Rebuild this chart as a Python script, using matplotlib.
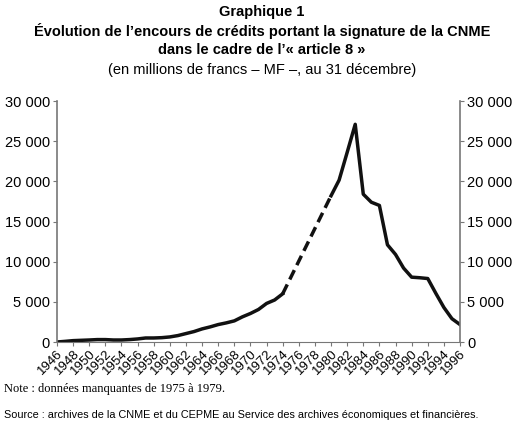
import matplotlib
matplotlib.use("Agg")
import matplotlib.pyplot as plt
from matplotlib.ticker import FuncFormatter

plt.rcParams['font.family'] = ['Liberation Sans', 'DejaVu Sans']

years_a = [1946,1947,1948,1949,1950,1951,1952,1953,1954,1955,1956,1957,1958,1959,1960,
           1961,1962,1963,1964,1965,1966,1967,1968,1969,1970,1971,1972,1973,1974]
vals_a = [0,80,170,210,250,300,300,250,250,300,380,500,500,540,630,
          800,1050,1300,1630,1880,2170,2380,2630,3130,3550,4050,4800,5230,6000]
years_gap = [1974, 1980]
vals_gap = [6000, 18200]
years_b = [1980,1981,1982,1983,1984,1985,1986,1987,1988,1989,1990,1991,1992,1993,1994,1995,1996]
vals_b = [18200,20150,23600,27100,18400,17400,17000,12100,10900,9200,8070,8000,7900,6060,4300,2900,2170]

fig = plt.figure(figsize=(5.24, 4.26), dpi=100)
ax = fig.add_axes([57/524, 1-342/426, (460-57)/524, (342-101)/426])
ax.plot(years_a, vals_a, color='#111111', lw=2.5, solid_joinstyle='round')
ax.plot(years_gap, vals_gap, color='#111111', lw=2.5, ls=(0, (3, 1.6)))
ax.plot(years_b, vals_b, color='#111111', lw=2.5, solid_joinstyle='round')

ax.set_xlim(1946, 1996)
ax.set_ylim(0, 30000)
ax.set_xticks(range(1946, 1997, 2))
ax.set_xticklabels([str(y) for y in range(1946, 1997, 2)], rotation=45, ha='right',
                   rotation_mode='anchor', fontsize=9.5)
ax.set_yticks(range(0, 30001, 5000))
fmt = FuncFormatter(lambda v, p: f"{int(v):,}".replace(",", " "))
ax.yaxis.set_major_formatter(fmt)
ax.tick_params(axis='y', labelsize=10.5, labelright=True, right=True, length=3,
               color='#777777', pad=2)
ax.tick_params(axis='x', length=3, color='#777777', pad=1)
ax.spines['top'].set_visible(False)
for s in ['left', 'right']:
    ax.spines[s].set_color('#777777')
    ax.spines[s].set_linewidth(1.2)
ax.spines['bottom'].set_color('#777777')

fig.text(0.5, 1-12/426, "Graphique 1", ha='center', va='center', fontsize=10.5, fontweight='bold')
fig.text(0.5, 1-31/426, "Évolution de l’encours de crédits portant la signature de la CNME",
         ha='center', va='center', fontsize=10.5, fontweight='bold')
fig.text(0.5, 1-50/426, "dans le cadre de l’« article 8 »", ha='center', va='center',
         fontsize=10.5, fontweight='bold')
fig.text(0.5, 1-70/426, "(en millions de francs – MF –, au 31 décembre)", ha='center',
         va='center', fontsize=10.5)
fig.text(4/524, 1-389/426, "Note : données manquantes de 1975 à 1979.", ha='left', va='center',
         fontsize=9, family=['Liberation Serif', 'DejaVu Serif'])
fig.text(4/524, 1-415/426, "Source : archives de la CNME et du CEPME au Service des archives économiques et financières.",
         ha='left', va='center', fontsize=7.8)

fig.savefig("out.png", dpi=100)
